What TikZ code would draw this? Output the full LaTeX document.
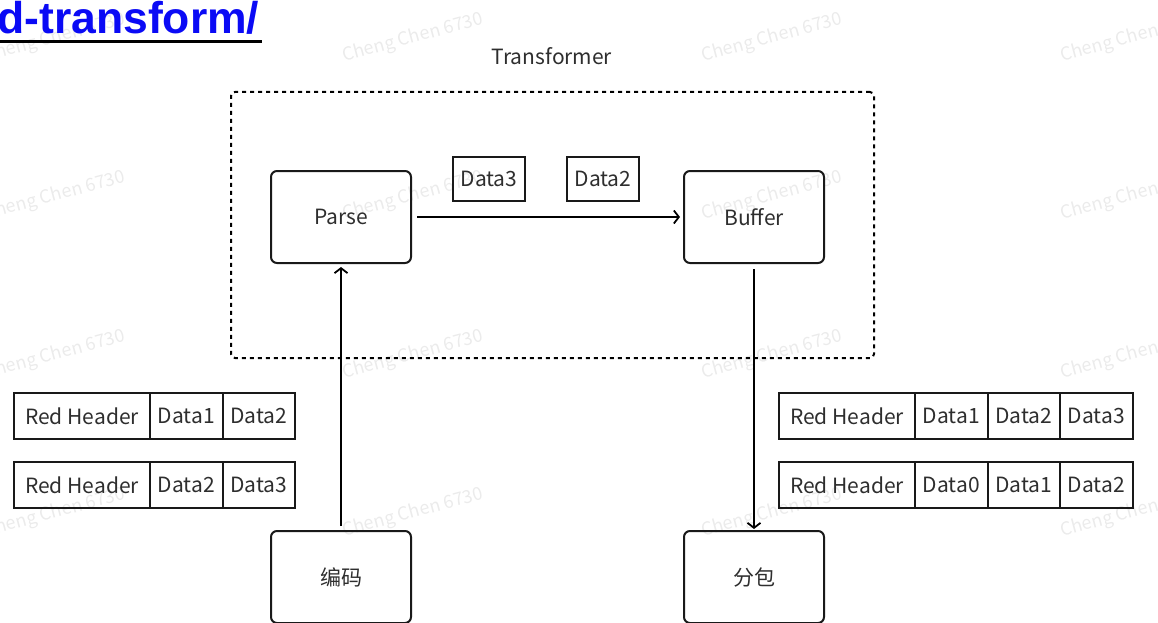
\documentclass[tikz,border=0pt]{standalone}
\usepackage{fontspec}
\setmainfont{Noto Sans CJK SC}
\newfontfamily\linkfont{Liberation Sans}
\usetikzlibrary{arrows.meta,positioning}
\definecolor{ink}{HTML}{2E2E2E}
\definecolor{linkblue}{HTML}{0A0AF5}
\definecolor{wmark}{HTML}{EBEBEB}

\tikzset{
  stage/.style={draw=black!90,line width=2pt,rounded corners=6pt,minimum width=140pt,minimum height=92pt,text=ink},
  cell/.style={draw=black!90,line width=2pt,outer sep=0pt,minimum height=46pt,inner sep=0pt,text=ink},
  hdcell/.style={cell,minimum width=136pt},
  datcell/.style={cell,minimum width=72.5pt},
  flow/.style={-{Straight Barb[length=5pt,width=13pt]},line width=1.8pt},
}

\begin{document}
\begin{tikzpicture}[x=1pt,y=-1pt,font=\fontsize{21}{25}\selectfont]
 \useasboundingbox (0,0) rectangle (1158,623);
 % ---- watermark grid
 \foreach \col/\wx in {0/55,1/413,2/772,3/1131}
  \foreach \row/\wy in {0/38,1/196,2/355,3/513}
   \node[text=wmark,rotate=15,font=\fontsize{18}{20}\selectfont] (wm-\col-\row) at (\wx,\wy) {Cheng Chen 6730};
 % ---- link text, cut at the page edge
 \node[anchor=base west,inner sep=0pt,text=linkblue,font=\linkfont\bfseries\fontsize{44.5}{50}\selectfont] (link) at (-3,34) {d-transform/};
 \draw[line width=3pt] (0,42) -- (262,42);
 % ---- transformer stage
 \node[text=ink] (title) at (552,56) {Transformer};
 \node[draw,line width=2pt,dash pattern=on 4pt off 4pt,rounded corners=4pt,minimum width=643pt,minimum height=266pt] (frame) at (552.5,225) {};
 \node[stage] (parse) at (341,217) {\raisebox{-2pt}{Parse}};
 \node[stage] (buffer) at (754,217) {\raisebox{-2pt}{Buffer}};
 \node[cell,minimum width=72pt,minimum height=44pt] (q3) at (489,179) {Data3};
 \node[cell,minimum width=72pt,minimum height=44pt] (q2) at (603,179) {Data2};
 \draw[flow,shorten <=5pt,shorten >=3pt] (parse) -- (buffer);
 % ---- in / out
 \node[stage] (encode) at (341,577) {编码};
 \node[stage] (split) at (754,577) {分包};
 \draw[flow,shorten <=4pt,shorten >=3pt] (encode) -- (parse);
 \draw[flow,shorten <=5pt,shorten >=1pt] (buffer) -- (split);
 % ---- packets before
 \node[hdcell] (l1h) at (82,416) {Red Header};
 \node[datcell,right=0pt of l1h] (l1a) {Data1};
 \node[datcell,right=0pt of l1a] (l1b) {Data2};
 \node[hdcell] (l2h) at (82,485) {Red Header};
 \node[datcell,right=0pt of l2h] (l2a) {Data2};
 \node[datcell,right=0pt of l2a] (l2b) {Data3};
 % ---- packets after
 \node[hdcell] (r1h) at (847,416) {Red Header};
 \node[datcell,right=0pt of r1h] (r1a) {Data1};
 \node[datcell,right=0pt of r1a] (r1b) {Data2};
 \node[datcell,right=0pt of r1b] (r1c) {Data3};
 \node[hdcell] (r2h) at (847,485) {Red Header};
 \node[datcell,right=0pt of r2h] (r2a) {Data0};
 \node[datcell,right=0pt of r2a] (r2b) {Data1};
 \node[datcell,right=0pt of r2b] (r2c) {Data2};
\end{tikzpicture}
\end{document}
